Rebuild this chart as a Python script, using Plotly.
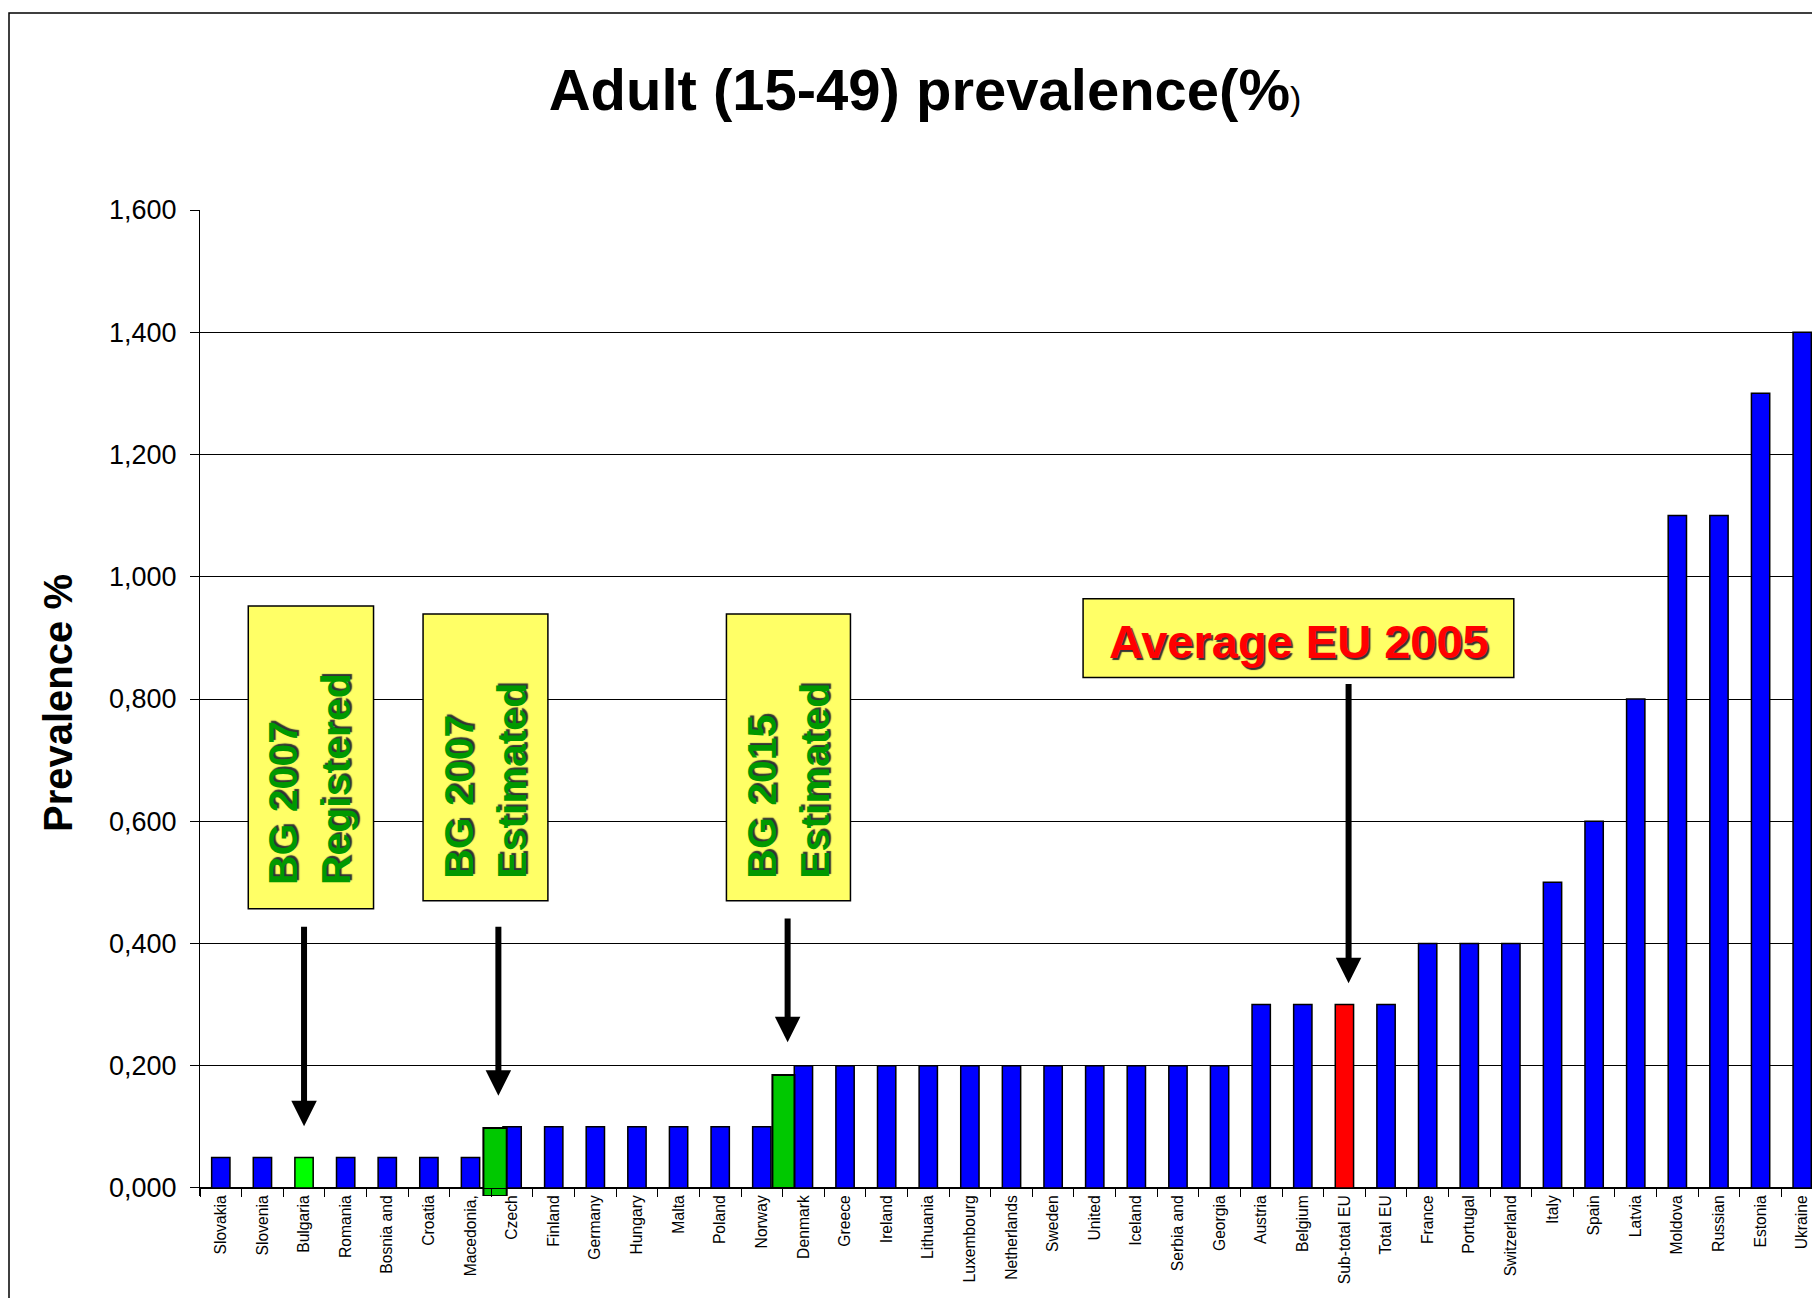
import plotly.graph_objects as go

# data
countries = ['Slovakia', 'Slovenia', 'Bulgaria', 'Romania', 'Bosnia and', 'Croatia',
             'Macedonia,', 'Czech', 'Finland', 'Germany', 'Hungary', 'Malta', 'Poland',
             'Norway', 'Denmark', 'Greece', 'Ireland', 'Lithuania', 'Luxembourg',
             'Netherlands', 'Sweden', 'United', 'Iceland', 'Serbia and', 'Georgia',
             'Austria', 'Belgium', 'Sub-total EU', 'Total EU', 'France', 'Portugal',
             'Switzerland', 'Italy', 'Spain', 'Latvia', 'Moldova', 'Russian',
             'Estonia', 'Ukraine']
prevalence = [0.05, 0.05, 0.05, 0.05, 0.05, 0.05, 0.05, 0.1, 0.1, 0.1, 0.1, 0.1, 0.1,
              0.1, 0.2, 0.2, 0.2, 0.2, 0.2, 0.2, 0.2, 0.2, 0.2, 0.2, 0.2, 0.3, 0.3,
              0.3, 0.3, 0.4, 0.4, 0.4, 0.5, 0.6, 0.8, 1.1, 1.1, 1.3, 1.4]

# Bulgarian estimates drawn between categories
est_pos = [6.59, 13.52]
est_top = [0.098, 0.185]
est_bottom = [-0.013, 0.0]

y_ticks = [0, 0.2, 0.4, 0.6, 0.8, 1.0, 1.2, 1.4, 1.6]
y_tick_text = ['0,000', '0,200', '0,400', '0,600', '0,800', '1,000', '1,200', '1,400', '1,600']

FONT = 'Arial, Liberation Sans, sans-serif'
W, H = 1820, 1298
# page has an 8px body margin, so everything is offset by that
L, R, T, B = 192, 5, 202, 110
Y_MIN, Y_MAX = -0.0131, 1.6
zero_pos = (0 - Y_MIN) / (Y_MAX - Y_MIN)
plot_w = W - L - R
plot_h = H - T - B

special = {'Bulgaria': '#00FF00', 'Sub-total EU': '#FF0000'}
colors = [special.get(c, '#0000FF') for c in countries]

fig = go.Figure()
fig.add_trace(go.Bar(
    x=countries, y=prevalence, width=0.44,
    marker=dict(color=colors, line=dict(color='black', width=1.5)),
    showlegend=False
))
fig.add_trace(go.Bar(
    x=est_pos, y=[t - b for t, b in zip(est_top, est_bottom)], base=est_bottom,
    width=[0.56, 0.53], xaxis='x2', yaxis='y',
    marker=dict(color='#00C800', line=dict(color='black', width=2)),
    showlegend=False
))

# yellow label boxes
boxes = [
    (0.66, 3.67, 0.457, 0.952),
    (4.86, 7.86, 0.470, 0.939),
    (12.15, 15.13, 0.470, 0.939),
    (20.72, 31.07, 0.835, 0.964),
]
shapes = []
for x0, x1, y0, y1 in boxes:
    shapes.append(dict(type='rect', xref='x2', yref='y', x0=x0, x1=x1, y0=y0, y1=y1,
                       fillcolor='#FFFF66', line=dict(color='black', width=1.5),
                       layer='above'))
# page frame
shapes.append(dict(type='rect', xref='paper', yref='paper',
                   x0=(1 - L) / plot_w, x1=1.05,
                   y0=-0.3, y1=(H - B - 5) / plot_h,
                   line=dict(color='black', width=1.5)))

green_font = dict(family=FONT, size=41, color='#009900', weight='bold',
                  shadow='2px 2px 1px #333333')
annotations = [
    dict(x=2.12, y=0.669, text='BG 2007<br>Registered'),
    dict(x=6.36, y=0.667, text='BG 2007<br>Estimated'),
    dict(x=13.64, y=0.667, text='BG 2015<br>Estimated'),
]
annotations = [dict(a, xref='x2', yref='y', showarrow=False, textangle=-90,
                    xanchor='center', yanchor='middle', align='left', font=green_font)
               for a in annotations]
annotations.append(dict(x=25.9, y=0.894, xref='x2', yref='y', showarrow=False,
                        text='Average EU 2005', xanchor='center', yanchor='middle',
                        font=dict(family=FONT, size=47, color='#FF0000', weight='bold',
                                  shadow='2px 2px 1px #333333')))

arrows = [
    (2.0, 0.101, 0.430),
    (6.67, 0.151, 0.430),
    (13.62, 0.2385, 0.4435),
    (27.1, 0.335, 0.827),
]
for x, tip, tail in arrows:
    annotations.append(dict(x=x, y=tip, ax=x, ay=tail, xref='x2', yref='y',
                            axref='x2', ayref='y', text='', showarrow=True,
                            arrowhead=2, arrowsize=0.85, arrowwidth=6,
                            arrowcolor='black', standoff=0))

fig.update_layout(
    width=W, height=H,
    margin=dict(l=L, r=R, t=T, b=B),
    paper_bgcolor='white', plot_bgcolor='white',
    barmode='overlay',
    font=dict(family=FONT, color='black'),
    title=dict(
        text="<b>Adult (15-49) prevalence(%</b><span style='font-size:34px'>)</span>",
        x=917 / W, xanchor='center', y=1 - 82 / H, yanchor='middle',
        font=dict(family=FONT, size=58, color='black')
    ),
    xaxis=dict(
        type='category', range=[-0.5, len(countries) - 0.5],
        tickson='boundaries', ticks='outside', ticklen=8, tickcolor='black',
        tickangle=-90, tickfont=dict(size=15.7, color='black'),
        showline=True, linecolor='black', linewidth=1,
        showgrid=False, anchor='free', position=zero_pos
    ),
    xaxis2=dict(
        overlaying='x', anchor='y', range=[-0.5, len(countries) - 0.5],
        visible=False
    ),
    yaxis=dict(
        range=[Y_MIN, Y_MAX], tickvals=y_ticks, ticktext=y_tick_text,
        ticks='outside', ticklen=9, tickcolor='black', ticklabelstandoff=8,
        tickfont=dict(size=27, color='black'),
        showgrid=True, gridcolor='black', gridwidth=1, zeroline=False,
        showline=True, linecolor='black', linewidth=1,
        title=dict(text='<b>Prevalence %</b>', standoff=24,
                   font=dict(size=40, color='black'))
    ),
    shapes=shapes,
    annotations=annotations,
    dragmode=False
)

fig.write_html("out.html")
